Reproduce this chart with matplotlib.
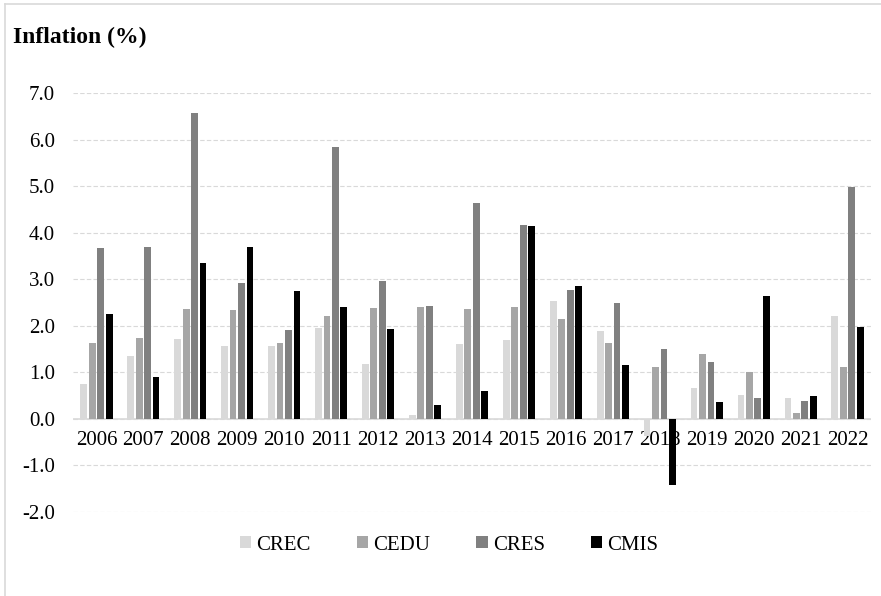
import matplotlib
matplotlib.use("Agg")
import matplotlib.pyplot as plt
import numpy as np
from matplotlib.lines import Line2D

years = ["2006", "2007", "2008", "2009", "2010", "2011", "2012", "2013", "2014",
         "2015", "2016", "2017", "2018", "2019", "2020", "2021", "2022"]
crec = [0.74, 1.35, 1.71, 1.57, 1.57, 1.96, 1.18, 0.09, 1.61, 1.70, 2.53, 1.89, -0.36, 0.67, 0.51, 0.45, 2.21]
cedu = [1.62, 1.73, 2.37, 2.34, 1.64, 2.22, 2.39, 2.41, 2.35, 2.40, 2.15, 1.64, 1.12, 1.39, 1.00, 0.12, 1.11]
cres = [3.66, 3.69, 6.56, 2.91, 1.92, 5.85, 2.96, 2.43, 4.63, 4.17, 2.76, 2.49, 1.51, 1.22, 0.44, 0.39, 4.99]
cmis = [2.25, 0.90, 3.35, 3.69, 2.74, 2.41, 1.94, 0.30, 0.60, 4.14, 2.86, 1.16, -1.42, 0.37, 2.64, 0.49, 1.97]
series_names = ["CREC", "CEDU", "CRES", "CMIS"]
colors = ["#d9d9d9", "#a6a6a6", "#808080", "#000000"]
yticks = [-2.0, -1.0, 0.0, 1.0, 2.0, 3.0, 4.0, 5.0, 6.0, 7.0]

FONT = "Liberation Serif"
W, H = 881, 596
fig = plt.figure(figsize=(W / 100, H / 100), dpi=100)
ax = fig.add_axes([73 / W, 1 - 512 / H, (871 - 73) / W, (512 - 93) / H])

x = np.arange(len(years))
pitch = 0.18
bw = 0.145
for i, (vals, name, c) in enumerate(zip([crec, cedu, cres, cmis], series_names, colors)):
    ax.bar(x + (i - 1.5) * pitch, vals, width=bw, color=c, label=name, zorder=3)

ax.set_xlim(-0.5, len(years) - 0.5)
ax.set_ylim(-2.0, 7.0)
ax.set_yticks(yticks)
ax.set_yticklabels([f"{v:.1f}" for v in yticks], fontfamily=FONT, fontsize=15)
ax.yaxis.grid(True, color="#d9d9d9", linestyle=(0, (4, 2)), linewidth=0.8, zorder=0)
ax.axhline(0, color="#d9d9d9", linewidth=1.2, zorder=2)
for s in ax.spines.values():
    s.set_visible(False)
ax.tick_params(axis="both", length=0)
ax.tick_params(axis="y", pad=13)
ax.set_xticks([])
for xi, yr in zip(x, years):
    ax.text(xi, -0.25, yr, ha="center", va="top", fontfamily=FONT, fontsize=15, zorder=1)

fig.text(13 / W, 1 - 37 / H, "Inflation (%)", ha="left", va="center",
         fontfamily=FONT, fontsize=17, fontweight="bold")

leg = fig.legend(loc="center", bbox_to_anchor=(449 / W, 1 - 545 / H), ncol=4, frameon=False,
                 prop={"family": FONT, "size": 15}, handlelength=0.55, handleheight=0.55,
                 handletextpad=0.25, columnspacing=2.2)

fig.add_artist(Line2D([4.5 / W, 4.5 / W], [0, 1 - 4 / H], transform=fig.transFigure,
                      color="#d9d9d9", linewidth=1.2))
fig.add_artist(Line2D([4.5 / W, 1], [1 - 4 / H, 1 - 4 / H], transform=fig.transFigure,
                      color="#d9d9d9", linewidth=1.2))

fig.savefig("out.png", dpi=100)
